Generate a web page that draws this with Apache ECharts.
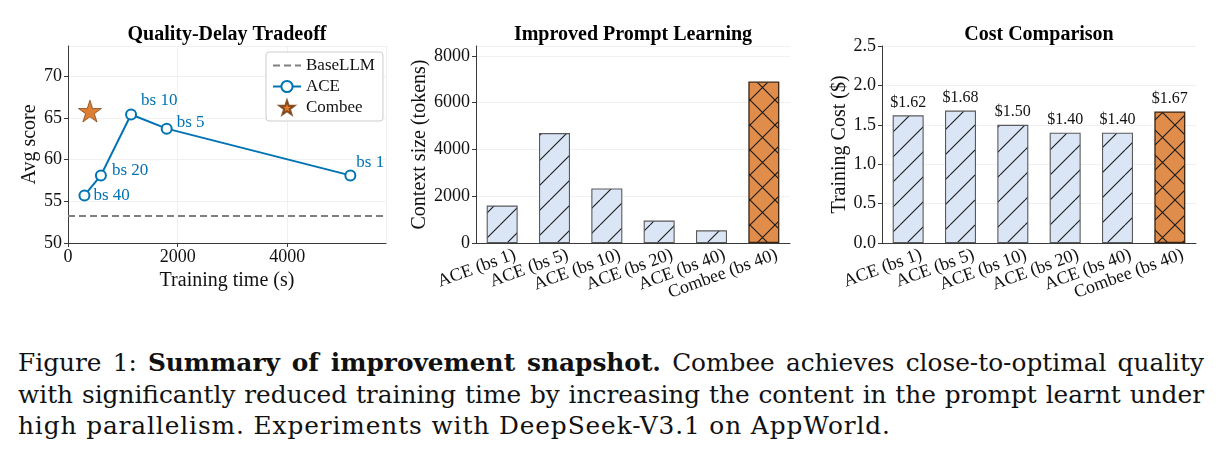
<!DOCTYPE html>
<html>
<head>
<meta charset="utf-8">
<script src="https://cdn.jsdelivr.net/npm/echarts@6/dist/echarts.min.js"></script>
<style>
  html, body { margin: 0; padding: 0; background: #fff; }
  #wrap { position: relative; width: 1222px; height: 461px; overflow: hidden; }
  #chart { position: absolute; left: 0; top: 0; width: 1222px; height: 320px; }
  #caption { position: absolute; left: 18px; top: 347px; width: 1186px;
    font-family: "DejaVu Serif", "Liberation Serif", serif; font-size: 24.8px; line-height: 31.7px;
    letter-spacing: 0; color: #111; }
  #caption div { white-space: nowrap; }
  #caption .j { text-align: justify; text-align-last: justify; }
  #caption .l3 { letter-spacing: 0.9px; }
</style>
</head>
<body>
<div id="wrap">
  <div id="chart"></div>
  <div id="caption">
    <div class="j">Figure 1: <b>Summary of improvement snapshot.</b> Combee achieves close-to-optimal quality</div>
    <div class="j">with significantly reduced training time by increasing the content in the prompt learnt under</div>
    <div class="l3">high parallelism. Experiments with DeepSeek-V3.1 on AppWorld.</div>
  </div>
</div>
<script>
// ---------------- data ----------------
const aceBatchSizes = [40, 20, 10, 5, 1];
const aceTrainTime = [300, 600, 1150, 1800, 5150];
const aceScore = [55.7, 58.1, 65.4, 63.7, 58.1];
const combeeTrainTime = [400];
const combeeScore = [65.8];
const baseLLMScore = 53.3;

const barCategories = ['ACE (bs 1)', 'ACE (bs 5)', 'ACE (bs 10)', 'ACE (bs 20)', 'ACE (bs 40)', 'Combee (bs 40)'];
const contextTokens = [1600, 4700, 2330, 960, 540, 6900];
const trainingCost = [1.62, 1.68, 1.50, 1.40, 1.40, 1.67];

const panelTitles = ['Quality-Delay Tradeoff', 'Improved Prompt Learning', 'Cost Comparison'];

// ---------------- styles ----------------
const FONT = '"Liberation Serif", "Times New Roman", serif';
const AX = '#3a3a3a';
const GRIDC = '#ececec';
const BLUE = '#0173B2';
const ORANGE = '#D55E00';

function hatch(fill, cross) {
  const s = 25;
  const c = document.createElement('canvas');
  c.width = s; c.height = s;
  const g = c.getContext('2d');
  g.fillStyle = fill; g.fillRect(0, 0, s, s);
  g.strokeStyle = '#1a1a1a'; g.lineWidth = 1.1;
  g.beginPath();
  for (const o of [-s, 0, s]) { g.moveTo(o, s); g.lineTo(o + s, 0); }
  if (cross) for (const o of [-s, 0, s]) { g.moveTo(o, 0); g.lineTo(o + s, s); }
  g.stroke();
  return { image: c, repeat: 'repeat' };
}
const aceFill = hatch('#dae6f6', false);
const combeeFill = hatch('#e08d4b', true);

const starPath = 'path://M50,0 L61.2,34.5 L97.6,34.5 L68.2,55.9 L79.4,90.5 L50,69.1 L20.6,90.5 L31.8,55.9 L2.4,34.5 L38.8,34.5 Z';

// label offsets for ACE point annotations (style only)
const aceLabelOffsets = [[-2, 0], [0, -5], [-1, -14], [-1, -6], [-5, -13]];

const tickFont = { fontFamily: FONT, fontSize: 18, color: '#111' };
const plain = v => String(v);

function valueAxis(gridIndex, opts) {
  return Object.assign({
    type: 'value', gridIndex,
    axisLine: { show: true, lineStyle: { color: AX, width: 1 } },
    axisTick: { show: true, length: 4, lineStyle: { color: AX } },
    axisLabel: Object.assign({ margin: 6, showMaxLabel: false, formatter: plain }, tickFont),
    splitLine: { show: true, lineStyle: { color: GRIDC, width: 0.8 } },
    nameLocation: 'middle',
    nameTextStyle: { fontFamily: FONT, fontSize: 20, color: '#111' }
  }, opts);
}
function catAxis(gridIndex) {
  return {
    type: 'category', gridIndex, data: barCategories,
    axisLine: { show: true, lineStyle: { color: AX, width: 1 } },
    axisTick: { show: false },
    axisLabel: Object.assign({ rotate: 20, margin: 16, interval: 0, padding: [0, -14, 0, 0] }, tickFont),
    splitLine: { show: false }
  };
}

function barData(values) {
  return values.map((v, i) => ({
    value: v,
    itemStyle: barCategories[i].startsWith('Combee')
      ? { color: combeeFill, borderColor: '#3b2412', borderWidth: 1.3 }
      : { color: aceFill, borderColor: '#5a5a5a', borderWidth: 1.1 }
  }));
}

const option = {
  animation: false,
  backgroundColor: '#fff',
  graphic: panelTitles.map((t, i) => ({
    type: 'text', x: [227, 633, 1039][i], y: 35,
    style: { text: t, fill: '#000', font: 'bold 20px ' + FONT, textAlign: 'center', textVerticalAlign: 'middle' }
  })),
  grid: [
    { left: 68, top: 46, width: 318, height: 197 },
    { left: 476, top: 46, width: 314, height: 197 },
    { left: 882, top: 46, width: 314, height: 197 }
  ],
  xAxis: [
    valueAxis(0, { min: 0, max: 5800, interval: 2000, name: 'Training time (s)', nameGap: 25,
      axisLabel: Object.assign({ margin: 5, showMaxLabel: false, formatter: plain }, tickFont) }),
    catAxis(1),
    catAxis(2)
  ],
  yAxis: [
    valueAxis(0, { min: 50, max: 73.6, interval: 5, name: 'Avg score', nameGap: 26 }),
    valueAxis(1, { min: 0, max: 8420, interval: 2000, name: 'Context size (tokens)', nameGap: 46 }),
    valueAxis(2, { min: 0, max: 2.5, interval: 0.5, name: 'Training Cost ($)', nameGap: 31,
      axisLabel: Object.assign({ margin: 6, showMaxLabel: true, formatter: v => v.toFixed(1) }, tickFont) })
  ],
  legend: {
    orient: 'vertical', left: 266, top: 52,
    padding: [5, 8, 5, 6], itemGap: 4, itemWidth: 28, itemHeight: 14,
    borderColor: '#cccccc', borderWidth: 1, borderRadius: 3, backgroundColor: '#fff',
    textStyle: { fontFamily: FONT, fontSize: 17, color: '#111' },
    data: [{ name: 'BaseLLM', itemStyle: { opacity: 0 } }, 'ACE', 'Combee']
  },
  series: [
    {
      name: 'BaseLLM', type: 'line', xAxisIndex: 0, yAxisIndex: 0, data: [],
      symbol: 'none', color: '#808080',
      lineStyle: { type: [7, 4], color: '#808080', width: 1.8 },
      markLine: {
        silent: true, symbol: 'none', label: { show: false },
        lineStyle: { type: [7, 4], color: '#808080', width: 1.8 },
        data: [{ yAxis: baseLLMScore }]
      }
    },
    {
      name: 'ACE', type: 'line', xAxisIndex: 0, yAxisIndex: 0,
      data: aceTrainTime.map((t, i) => ({
        value: [t, aceScore[i]],
        label: { offset: aceLabelOffsets[i] }
      })),
      color: BLUE,
      symbol: 'circle', symbolSize: 10,
      itemStyle: { color: '#fff', borderColor: BLUE, borderWidth: 2 },
      lineStyle: { color: BLUE, width: 2 },
      label: {
        show: true, position: 'right', distance: 5,
        formatter: p => 'bs ' + aceBatchSizes[p.dataIndex],
        fontFamily: FONT, fontSize: 17, color: BLUE
      },
      z: 3
    },
    {
      name: 'Combee', type: 'scatter', xAxisIndex: 0, yAxisIndex: 0,
      data: combeeTrainTime.map((t, i) => [t, combeeScore[i]]),
      symbol: starPath, symbolSize: 23, symbolKeepAspect: true,
      itemStyle: { color: ORANGE, borderColor: '#6b2f00', borderWidth: 0.8 },
      z: 4
    },
    {
      name: 'Context', type: 'bar', xAxisIndex: 1, yAxisIndex: 1,
      barWidth: 31, data: barData(contextTokens)
    },
    {
      name: 'Cost', type: 'bar', xAxisIndex: 2, yAxisIndex: 2,
      barWidth: 31, data: barData(trainingCost),
      label: {
        show: true, position: 'top', distance: 5,
        formatter: p => '$' + p.value.toFixed(2),
        fontFamily: FONT, fontSize: 16, color: '#111'
      }
    }
  ]
};

const chart = echarts.init(document.getElementById('chart'), null, { renderer: 'canvas' });
chart.setOption(option);
</script>
</body>
</html>
